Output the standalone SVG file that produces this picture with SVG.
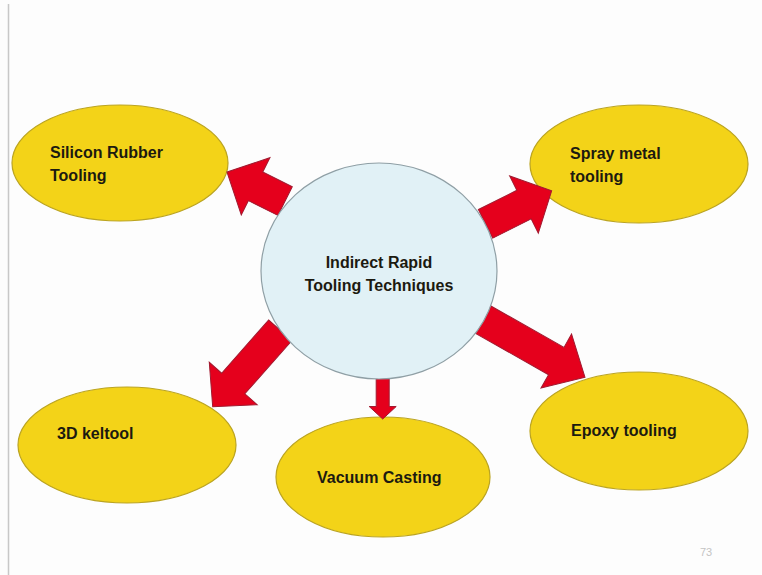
<svg xmlns="http://www.w3.org/2000/svg" width="762" height="575" viewBox="0 0 762 575">
<style>
.bg{fill:#fdfdfd}
.node{fill:#f3d318;stroke:#bba421;stroke-width:1.2}
.hub{fill:#e1f1f6;stroke:#8f9fa5;stroke-width:1.2}
.arr{fill:#e5001c;stroke:#a11a30;stroke-width:1;stroke-linejoin:miter}
.lbl{font-family:"Liberation Sans",Arial,sans-serif;font-weight:bold;font-size:16px;fill:#1c1a10}
.pg{font-family:"Liberation Sans",Arial,sans-serif;font-size:11px;fill:#c4c4c4}
</style>
<rect class="bg" x="0" y="0" width="762" height="575"/>
<line x1="8.5" y1="4" x2="8.5" y2="575" stroke="#c8c8c8" stroke-width="1.5"/>
<g id="silicon-rubber">
<ellipse class="node" cx="120" cy="163" rx="108" ry="58"/>
<text class="lbl" x="50" y="158">Silicon Rubber</text>
<text class="lbl" x="50" y="181">Tooling</text>
</g>
<g id="spray-metal">
<ellipse class="node" cx="639" cy="164" rx="109" ry="59"/>
<text class="lbl" x="570" y="159">Spray metal</text>
<text class="lbl" x="570" y="182">tooling</text>
</g>
<g id="keltool">
<ellipse class="node" cx="127" cy="445" rx="109" ry="58"/>
<text class="lbl" x="57" y="439">3D keltool</text>
</g>
<g id="vacuum-casting">
<ellipse class="node" cx="383" cy="477" rx="107" ry="60"/>
<text class="lbl" x="317" y="483">Vacuum Casting</text>
</g>
<g id="epoxy">
<ellipse class="node" cx="639" cy="431" rx="109" ry="59"/>
<text class="lbl" x="571" y="436">Epoxy tooling</text>
</g>
<g id="connectors">
<polygon class="arr" transform="translate(227,172) rotate(-153.4)" points="0,0 -32,32 -32,16 -65,16 -65,-16 -32,-16 -32,-32"/>
<polygon class="arr" transform="translate(551.7,190.7) rotate(-26.6)" points="0,0 -31,32 -31,16 -74,16 -74,-16 -31,-16 -31,-32"/>
<polygon class="arr" transform="translate(212.7,406.7) rotate(131.5)" points="0,0 -31,32 -31,15.5 -102,15.5 -102,-15.5 -31,-15.5 -31,-32"/>
<polygon class="arr" transform="translate(585,377.3) rotate(29.5)" points="0,0 -33,31 -33,15.7 -118,15.7 -118,-15.7 -33,-15.7 -33,-31"/>
<polygon class="arr" transform="translate(382.7,419) rotate(90)" points="0,0 -12.5,13.5 -12.5,6.5 -44,6.5 -44,-6.5 -12.5,-6.5 -12.5,-13.5"/>
</g>
<g id="hub">
<ellipse class="hub" cx="379" cy="271" rx="118" ry="108"/>
<text class="lbl" x="379" y="268" text-anchor="middle">Indirect Rapid</text>
<text class="lbl" x="379" y="291" text-anchor="middle">Tooling Techniques</text>
</g>
<text class="pg" x="700" y="556">73</text>
</svg>
